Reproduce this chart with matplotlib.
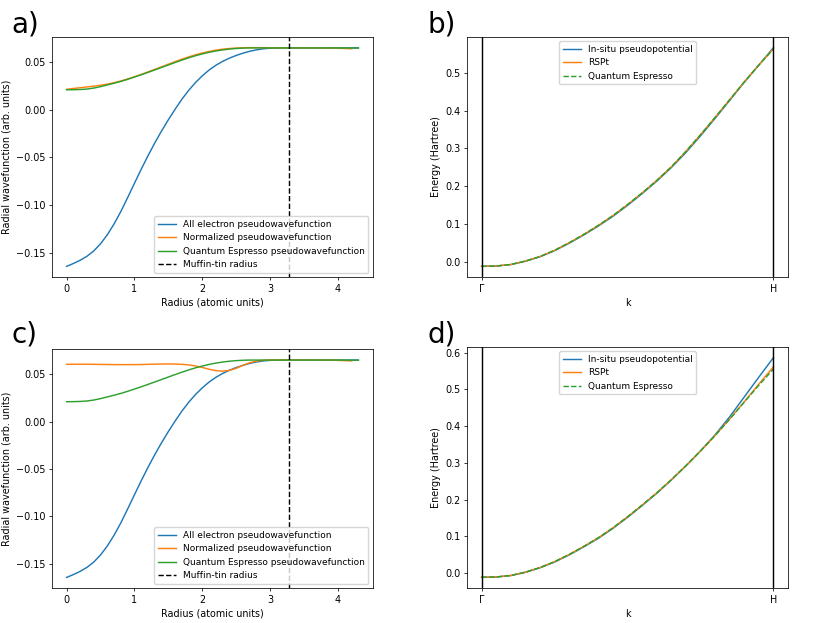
import numpy as np
import matplotlib
matplotlib.use('Agg')
import matplotlib.pyplot as plt

# radial grid (atomic units)
radius = [0.0, 0.1, 0.2, 0.3, 0.4, 0.5, 0.6, 0.7, 0.8, 0.9,
          1.0, 1.1, 1.2, 1.3, 1.4, 1.5, 1.6, 1.7, 1.8, 1.9,
          2.0, 2.1, 2.2, 2.3, 2.4, 2.5, 2.6, 2.7, 2.8, 2.9,
          3.0, 3.2, 3.4, 3.6, 3.8, 4.0, 4.2, 4.3]

# all electron wavefunction (same in a and c)
ae_wave = [-0.1645, -0.1615, -0.1581, -0.1539, -0.1483, -0.1408, -0.1313, -0.1199, -0.1068, -0.0922,
           -0.0772, -0.0624, -0.0482, -0.0348, -0.0222, -0.0104, 0.0007, 0.0112, 0.0205, 0.0287,
           0.0357, 0.0418, 0.0468, 0.0509, 0.0543, 0.0571, 0.0595, 0.0615, 0.0630, 0.0641,
           0.0647, 0.0650, 0.0650, 0.0650, 0.0650, 0.0650, 0.0650, 0.0650]

# quantum espresso pseudowavefunction (same in a and c)
qe_wave = [0.0210, 0.0211, 0.0213, 0.0218, 0.0228, 0.0243, 0.0261, 0.0279, 0.0298, 0.0320,
           0.0344, 0.0368, 0.0393, 0.0419, 0.0445, 0.0471, 0.0497, 0.0522, 0.0546, 0.0568,
           0.0587, 0.0604, 0.0618, 0.0629, 0.0638, 0.0644, 0.0648, 0.0650, 0.0650, 0.0650,
           0.0650, 0.0650, 0.0650, 0.0650, 0.0650, 0.0650, 0.0649, 0.0649]

# normalized pseudowavefunction, ends at r = 4.2
norm_wave_a = [0.0215, 0.0224, 0.0232, 0.0240, 0.0248, 0.0258, 0.0270, 0.0285, 0.0303, 0.0324,
               0.0347, 0.0372, 0.0398, 0.0425, 0.0452, 0.0479, 0.0506, 0.0532, 0.0556, 0.0578,
               0.0597, 0.0613, 0.0627, 0.0637, 0.0644, 0.0649, 0.0652, 0.0653, 0.0653, 0.0653,
               0.0652, 0.0651, 0.0651, 0.0651, 0.0650, 0.0647, 0.0641]
norm_wave_c = [0.0605, 0.0606, 0.0606, 0.0606, 0.0605, 0.0604, 0.0603, 0.0602, 0.0602, 0.0602,
               0.0602, 0.0603, 0.0605, 0.0607, 0.0608, 0.0609, 0.0608, 0.0605, 0.0599, 0.0588,
               0.0572, 0.0553, 0.0538, 0.0533, 0.0541, 0.0563, 0.0595, 0.0622, 0.0639, 0.0648,
               0.0651, 0.0652, 0.0651, 0.0651, 0.0650, 0.0647, 0.0641]

mt_radius = 3.28

# band path Gamma -> H
kpath = [0.0, 0.05, 0.1, 0.15, 0.2, 0.25, 0.3, 0.35, 0.4, 0.45, 0.5,
         0.55, 0.6, 0.65, 0.7, 0.75, 0.8, 0.85, 0.9, 0.95, 1.0]
kticks = [0.0, 1.0]
klabels = ['Γ', 'H']

insitu_b = [-0.0125, -0.0116, -0.0078, 0.0010, 0.0128, 0.0290, 0.0488,
            0.0705, 0.0943, 0.1200, 0.1490, 0.1800, 0.2130, 0.2490, 0.2890,
            0.3330, 0.3795, 0.4270, 0.4750, 0.5205, 0.5670]
rspt_b = [-0.0125, -0.0115, -0.0075, 0.0015, 0.0135, 0.0300, 0.0500,
          0.0720, 0.0960, 0.1220, 0.1510, 0.1820, 0.2150, 0.2510, 0.2920,
          0.3360, 0.3820, 0.4290, 0.4760, 0.5210, 0.5640]
qe_b = [-0.0125, -0.0115, -0.0075, 0.0015, 0.0135, 0.0300, 0.0500,
        0.0720, 0.0960, 0.1220, 0.1510, 0.1820, 0.2150, 0.2510, 0.2920,
        0.3360, 0.3820, 0.4290, 0.4760, 0.5210, 0.5630]

insitu_d = [-0.0115, -0.0106, -0.0068, 0.0020, 0.0143, 0.0300, 0.0493,
            0.0712, 0.0945, 0.1215, 0.1515, 0.1835, 0.2168, 0.2530, 0.2915,
            0.3320, 0.3760, 0.4250, 0.4790, 0.5330, 0.5860]
rspt_d = [-0.0115, -0.0105, -0.0065, 0.0025, 0.0150, 0.0310, 0.0505,
          0.0725, 0.0960, 0.1230, 0.1530, 0.1850, 0.2180, 0.2540, 0.2920,
          0.3320, 0.3740, 0.4190, 0.4660, 0.5140, 0.5610]
qe_d = [-0.0115, -0.0105, -0.0065, 0.0025, 0.0150, 0.0310, 0.0505,
        0.0725, 0.0960, 0.1230, 0.1530, 0.1850, 0.2180, 0.2540, 0.2920,
        0.3320, 0.3740, 0.4185, 0.4650, 0.5110, 0.5550]

s = 0.69  # scale of the original figure
plt.rcParams.update({
    'font.size': 10 * s,
    'lines.linewidth': 1.5 * s,
    'axes.linewidth': 0.8 * s,
    'xtick.major.size': 3.5 * s,
    'ytick.major.size': 3.5 * s,
    'xtick.major.width': 0.8 * s,
    'ytick.major.width': 0.8 * s,
    'xtick.major.pad': 3.5 * s,
    'ytick.major.pad': 3.5 * s,
    'axes.labelpad': 4 * s,
    'legend.fontsize': 9.4 * s,
})

fig = plt.figure(figsize=(8.3, 6.23), dpi=100)

W, H = 830.0, 623.0
def box(l, t, r, b):
    return [l / W, 1 - b / H, (r - l) / W, (b - t) / H]

ax_a = fig.add_axes(box(52, 36.7, 373, 277.3))
ax_b = fig.add_axes(box(467, 36.7, 788, 277.3))
ax_c = fig.add_axes(box(52, 349, 373, 588.3))
ax_d = fig.add_axes(box(467, 346.7, 788, 588.3))


def wave_panel(ax, norm_wave):
    ax.plot(radius, ae_wave, label='All electron pseudowavefunction')
    ax.plot(radius[:len(norm_wave)], norm_wave, label='Normalized pseudowavefunction')
    ax.plot(radius, qe_wave, label='Quantum Espresso pseudowavefunction')
    ax.axvline(mt_radius, color='k', linestyle='--', label='Muffin-tin radius')
    ax.set_xlabel('Radius (atomic units)')
    ax.set_ylabel('Radial wavefunction (arb. units)')
    ax.legend(loc='lower right')


def band_panel(ax, insitu, rspt, qe):
    ax.plot(kpath, insitu, label='In-situ pseudopotential')
    ax.plot(kpath, rspt, label='RSPt')
    ax.plot(kpath, qe, '--', label='Quantum Espresso')
    for k in kticks:
        ax.axvline(k, color='k', linewidth=1.5 * s)
    ax.set_xticks(kticks)
    ax.set_xticklabels(klabels)
    ax.set_xlabel('k')
    ax.set_ylabel('Energy (Hartree)')
    ax.legend(loc='upper center')


wave_panel(ax_a, norm_wave_a)
band_panel(ax_b, insitu_b, rspt_b, qe_b)
wave_panel(ax_c, norm_wave_c)
band_panel(ax_d, insitu_d, rspt_d, qe_d)

fig.text(11 / W, 1 - 33 / H, 'a)', fontsize=20, va='baseline')
fig.text(427 / W, 1 - 33 / H, 'b)', fontsize=20, va='baseline')
fig.text(11 / W, 1 - 343 / H, 'c)', fontsize=20, va='baseline')
fig.text(427 / W, 1 - 343 / H, 'd)', fontsize=20, va='baseline')

plt.savefig('out.png', dpi=100)
